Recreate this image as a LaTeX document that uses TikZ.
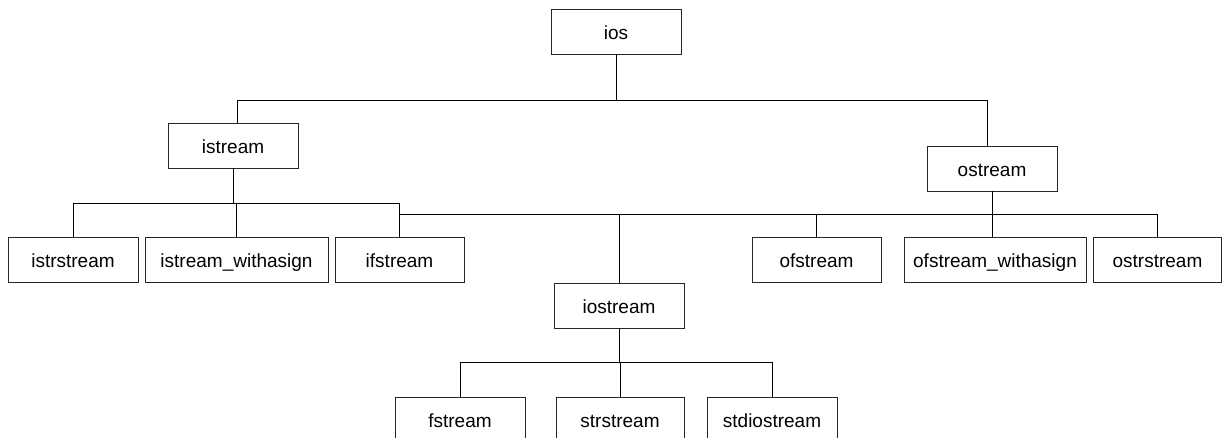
\documentclass[tikz,border=0pt]{standalone}
\usepackage{fontspec}
\setmainfont{Liberation Sans}
\begin{document}
\begin{tikzpicture}[x=1pt,y=-1pt,
  box/.style={draw=black!85, line width=0.9pt, minimum height=45pt, inner sep=0pt, text height=17.5pt, text depth=2pt, font=\fontsize{19}{22}\selectfont},
  conn/.style={draw=black, line width=0.9pt}]
\clip (0,0) rectangle (1222,438);
\fill[white] (0,0) rectangle (1222,438);
% nodes
\node[box, minimum width=130pt] (ios) at (616,31.5) {ios};
\node[box, minimum width=130pt] (istream) at (233,145.5) {istream};
\node[box, minimum width=130pt] (ostream) at (992,168.5) {ostream};
\node[box, minimum width=130pt] (istrstream) at (73,259.5) {istrstream};
\node[box, minimum width=183pt] (iswa) at (236.5,259.5) {istream\_withasign};
\node[box, minimum width=129pt] (ifstream) at (399.5,259.5) {ifstream};
\node[box, minimum width=129pt] (ofstream) at (816.5,259.5) {ofstream};
\node[box, minimum width=182pt] (oswa) at (995,259.5) {ofstream\_withasign};
\node[box, minimum width=128pt] (ostrstream) at (1157.5,259.5) {ostrstream};
\node[box, minimum width=130pt] (iostream) at (619,305.5) {iostream};
\node[box, minimum width=130pt] (fstream) at (460,419.5) {fstream};
\node[box, minimum width=128pt] (strstream) at (620,419.5) {strstream};
\node[box, minimum width=130pt] (stdiostream) at (772,419.5) {stdiostream};
% bus coordinates
\coordinate (b1) at (0,100);
\coordinate (b2) at (0,203);
\coordinate (b3) at (0,214);
\coordinate (b4) at (0,362);
% connectors
\draw[conn] (ios.south) -- (ios.south |- b1);
\draw[conn] ([xshift=4pt]istream.north) |- ([xshift=-5pt]ostream.north |- b1) -- ([xshift=-5pt]ostream.north);
\draw[conn] (istream.south) -- (istream.south |- b2);
\draw[conn] (istrstream.north) |- (ifstream.north |- b2) -- (ifstream.north);
\draw[conn] (iswa.north) -- (iswa.north |- b2);
\draw[conn] (ifstream.north |- b2) |- (ostrstream.north |- b3) -- (ostrstream.north);
\draw[conn] (ostream.south) -- (ostream.south |- oswa.north);
\draw[conn] (ofstream.north) -- (ofstream.north |- b3);
\draw[conn] (iostream.north) -- (iostream.north |- b3);
\draw[conn] (iostream.south) -- (iostream.south |- b4);
\draw[conn] (fstream.north) |- (stdiostream.north |- b4) -- (stdiostream.north);
\draw[conn] (strstream.north) -- (strstream.north |- b4);
\end{tikzpicture}
\end{document}
